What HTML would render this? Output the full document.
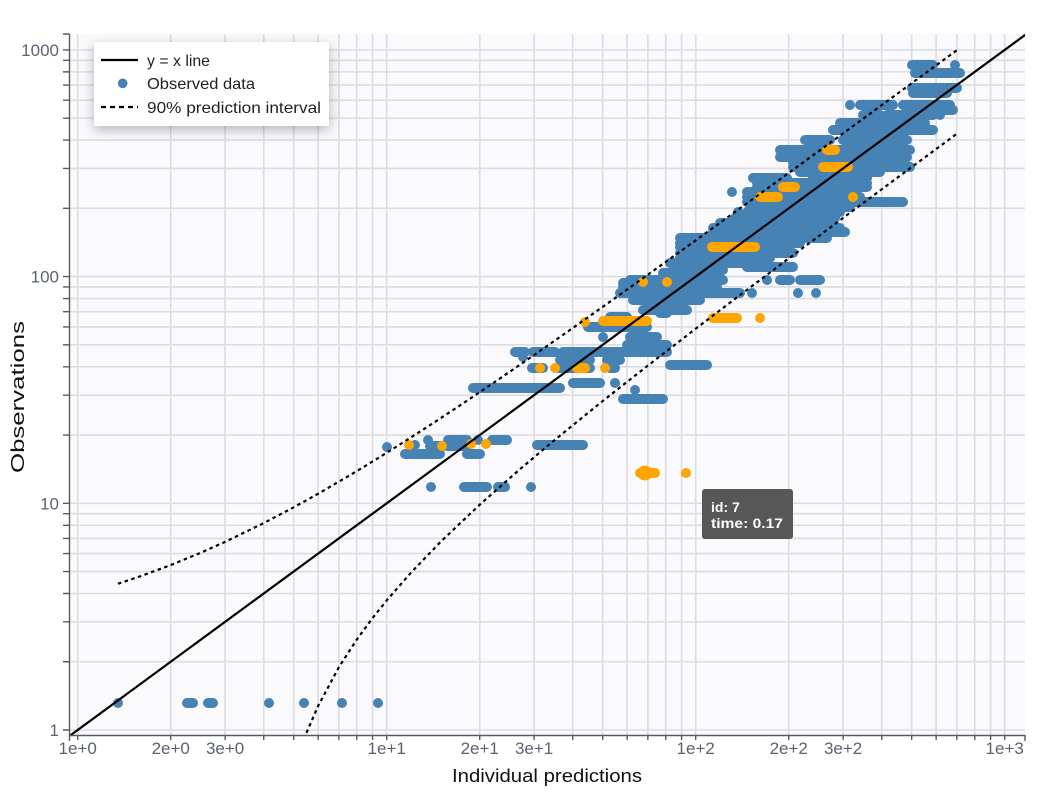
<!DOCTYPE html>
<html><head><meta charset="utf-8"><style>
html,body{margin:0;padding:0;background:#fff;}
svg{display:block;}
text{font-family:"Liberation Sans",Arial,sans-serif;}
</style></head><body>
<svg width="1050" height="794" viewBox="0 0 1050 794" xmlns="http://www.w3.org/2000/svg">
<defs>
<clipPath id="pa"><rect x="69.5" y="34" width="955.5" height="701"/></clipPath>
<filter id="sh" x="-20%" y="-30%" width="140%" height="170%"><feDropShadow dx="0" dy="4" stdDeviation="6" flood-color="#000" flood-opacity="0.28"/></filter>
</defs>
<rect width="1050" height="794" fill="#fff"/>
<rect x="69.5" y="34" width="955.5" height="701" fill="#fafafd"/>
<g stroke="#dcdce1" stroke-width="1.6" fill="none">
<path d="M77.7 34V735M170.72 34V735M225.13 34V735M263.74 34V735M293.68 34V735M318.15 34V735M338.84 34V735M356.75 34V735M372.56 34V735M386.7 34V735M479.72 34V735M534.13 34V735M572.74 34V735M602.68 34V735M627.15 34V735M647.84 34V735M665.75 34V735M681.56 34V735M695.7 34V735M788.72 34V735M843.13 34V735M881.74 34V735M911.68 34V735M936.15 34V735M956.84 34V735M974.75 34V735M990.56 34V735M1004.7 34V735"/>
<path d="M69.5 730H1025M69.5 661.76H1025M69.5 621.84H1025M69.5 593.51H1025M69.5 571.54H1025M69.5 553.59H1025M69.5 538.42H1025M69.5 525.27H1025M69.5 513.67H1025M69.5 503.3H1025M69.5 435.06H1025M69.5 395.14H1025M69.5 366.81H1025M69.5 344.84H1025M69.5 326.89H1025M69.5 311.72H1025M69.5 298.57H1025M69.5 286.97H1025M69.5 276.6H1025M69.5 208.36H1025M69.5 168.44H1025M69.5 140.11H1025M69.5 118.14H1025M69.5 100.19H1025M69.5 85.02H1025M69.5 71.87H1025M69.5 60.27H1025M69.5 49.9H1025"/>
</g>
<g clip-path="url(#pa)">
<path fill="none" stroke="#4682b4" stroke-width="10" stroke-linecap="round" d="M118 703h0.01M187 703H193M208 703H213M269 703h0.01M304 703h0.01M342 703h0.01M378 703h0.01
M431 487h0.01M464 487H487M498 487H505M531 487h0.01
M387 447h0.01M415 445h0.01M428 440h0.01M448 440H467M478 440h0.01M492 440H507M430 446H443M447 446H467M405 454H440M467 454H480
M537 445H583
M473 388H560M573 383H600M615 383h0.01M635 390h0.01M623 399H663
M532 368H543M558 368H590M610 368H615M670 365H707M560 360H590M607 360H620
M515 352H525M533 352H555M563 352H597M600 352H667M523 357h0.01M627 345H667M630 337H657M603 337h0.01
M588 327H647M610 317H627M660 313H667M643 310H687M633 300H700M627 292H700M623 283H700
M620 293H740M752 293h0.01M798 293h0.01M816 293h0.01M623 287H717M630 280H723M767 280h0.01M780 280H790M800 280H820
M663 273H720M680 270H723M747 267H793M670 263H767M680 258H770M680 253H793M680 247H763M680 243H800M680 238H827
M713 232H843M845 232h0.01M713 228H840M720 223H830M735 218H835M738 212h0.01M747 212H840M750 207H850
M747 202H903M747 197H860M732 192h0.01M747 192H855M757 187H867M757 183H867M753 178H787M813 178H867
M800 172H880M793 167H910M793 162H905M780 157H907M780 150H910M805 140H830M843 140H907M833 130H933M840 123H925
M863 115H880M887 115H933M940 115h0.01M907 110H953M850 105h0.01M860 105H893M903 105H950
M913 93H947M912 88H957M915 73H960M912 65H933M955 65h0.01"/>
<path fill="none" stroke="#ffa500" stroke-width="10" stroke-linecap="round" d="M409 445h0.01M442 446h0.01M471 444h0.01M486 444h0.01
M540 368h0.01M555 368h0.01M577 368H585M605 368h0.01
M585 322h0.01M603 321H647
M713 318H737M760 318h0.01
M643 282h0.01M667 282h0.01
M712 247H755
M760 197H778M853 197h0.01
M783 187H795
M823 167H848M827 150H835"/>
<path fill="none" stroke="#ffa500" stroke-width="10" stroke-linecap="round" d="M640 473H655M686 473h0.01"/>
<circle cx="645" cy="473" r="7.5" fill="#ffa500"/>
<line x1="69.5" y1="736" x2="1025.8" y2="34.4" stroke="#000" stroke-width="2.2"/>
<polyline fill="none" stroke="#000" stroke-width="2.2" stroke-dasharray="3.5,3.5" points="117.97,583.76 140.77,576.14 170.72,565.07 200.66,552.77 225.13,541.85 263.74,523.08 293.68,507.32 318.15,493.74 356.75,471.16 386.7,452.81 421.91,430.44 457.91,406.83 492.51,383.57 534.13,355.0 572.74,328.05 615.47,297.83 657.09,268.11 695.7,240.36 740.85,207.72 788.72,172.97 843.13,133.34 897.54,93.61 956.84,50.24"/>
<polyline fill="none" stroke="#000" stroke-width="2.2" stroke-dasharray="3.5,3.5" points="306.47,732.85 318.15,705.85 338.83,667.27 356.75,639.63 372.56,618.07 386.7,600.39 411.17,572.42 441.11,541.34 479.72,504.69 519.99,469.12 554.82,439.83 602.68,401.05 647.84,365.57 695.7,328.71 740.85,294.45 788.72,258.49 843.13,217.92 897.54,177.56 956.84,133.75"/>
</g>
<g stroke="#5a5a5a" stroke-width="1.4" fill="none">
<path d="M69.5 34V735.5H1025"/>
<path d="M69.5 735V741M1025 735V741M77.7 735V740M170.72 735V740M225.13 735V740M263.74 735V740M293.68 735V740M318.15 735V740M338.84 735V740M356.75 735V740M372.56 735V740M386.7 735V740M479.72 735V740M534.13 735V740M572.74 735V740M602.68 735V740M627.15 735V740M647.84 735V740M665.75 735V740M681.56 735V740M695.7 735V740M788.72 735V740M843.13 735V740M881.74 735V740M911.68 735V740M936.15 735V740M956.84 735V740M974.75 735V740M990.56 735V740M1004.7 735V740"/>
<path d="M63 34H69.5M63 730H69.5M63 661.76H69.5M63 621.84H69.5M63 593.51H69.5M63 571.54H69.5M63 553.59H69.5M63 538.42H69.5M63 525.27H69.5M63 513.67H69.5M63 503.3H69.5M63 435.06H69.5M63 395.14H69.5M63 366.81H69.5M63 344.84H69.5M63 326.89H69.5M63 311.72H69.5M63 298.57H69.5M63 286.97H69.5M63 276.6H69.5M63 208.36H69.5M63 168.44H69.5M63 140.11H69.5M63 118.14H69.5M63 100.19H69.5M63 85.02H69.5M63 71.87H69.5M63 60.27H69.5M63 49.9H69.5"/>
</g>
<g fill="#5b6372" font-size="17" text-anchor="middle">
<text x="77.7" y="754">1e+0</text>
<text x="170.72" y="754">2e+0</text>
<text x="225.13" y="754">3e+0</text>
<text x="386.7" y="754">1e+1</text>
<text x="479.72" y="754">2e+1</text>
<text x="534.13" y="754">3e+1</text>
<text x="695.7" y="754">1e+2</text>
<text x="788.72" y="754">2e+2</text>
<text x="843.13" y="754">3e+2</text>
<text x="1004.7" y="754">1e+3</text>
</g>
<g fill="#5b6372" font-size="17" text-anchor="end">
<text x="59" y="56">1000</text>
<text x="59" y="282.7">100</text>
<text x="59" y="509.4">10</text>
<text x="59" y="736">1</text>
</g>
<text x="452" y="782" font-size="18" fill="#111" textLength="190" lengthAdjust="spacingAndGlyphs">Individual predictions</text>
<text transform="translate(24,473) rotate(-90)" x="0" y="0" font-size="18" fill="#111" textLength="152" lengthAdjust="spacingAndGlyphs">Observations</text>
<rect x="94" y="42" width="235" height="84" fill="#fff" filter="url(#sh)"/>
<line x1="101" y1="60" x2="138" y2="60" stroke="#000" stroke-width="2.2"/>
<circle cx="122.7" cy="83.3" r="4.8" fill="#4682b4"/>
<line x1="101" y1="107" x2="138" y2="107" stroke="#000" stroke-width="2.2" stroke-dasharray="5,4"/>
<g fill="#222" font-size="16">
<text x="147" y="66" textLength="63" lengthAdjust="spacingAndGlyphs">y = x line</text>
<text x="147" y="89" textLength="108" lengthAdjust="spacingAndGlyphs">Observed data</text>
<text x="147" y="113" textLength="174" lengthAdjust="spacingAndGlyphs">90% prediction interval</text>
</g>
<rect x="702" y="489" width="91" height="50" rx="3" fill="#575757"/>
<g fill="#fff" font-size="14" font-weight="bold">
<text x="711" y="512">id: 7</text>
<text x="711" y="528" textLength="72" lengthAdjust="spacingAndGlyphs">time: 0.17</text>
</g>
</svg>
</body></html>
